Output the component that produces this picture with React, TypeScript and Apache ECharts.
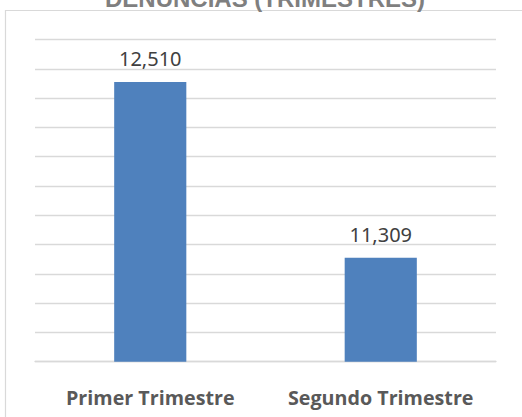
import React, { useEffect, useRef } from "react";
import * as echarts from "echarts";

const titleText = "DENUNCIAS (TRIMESTRES)";
const categories = ["Primer Trimestre", "Segundo Trimestre"];
const values = [12510, 11309];
const axisMin = 10600;
const axisMax = 12800;
const axisInterval = 200;

export default function App() {
  const ref = useRef<HTMLDivElement>(null);
  useEffect(() => {
    if (!ref.current) return;
    const chart = echarts.init(ref.current, undefined, { renderer: "svg" });
    chart.setOption({
      animation: false,
      backgroundColor: "#ffffff",
      graphic: [
        {
          type: "rect",
          shape: { x: 5.5, y: 10.5, width: 540, height: 430 },
          style: { fill: "none", stroke: "#d9d9d9", lineWidth: 1.2 },
          silent: true,
        },
        {
          type: "text",
          x: 265,
          y: 10,
          style: {
            text: titleText,
            font: "bold 24px 'Liberation Sans', Arial, sans-serif",
            fill: "#7f7f7f",
            textAlign: "center",
            textVerticalAlign: "bottom",
          },
        },
      ],
      grid: { left: 35, right: 26, top: 39.5, bottom: 55.3, containLabel: false },
      xAxis: {
        type: "category",
        data: categories,
        axisTick: { show: false },
        axisLine: { show: true, lineStyle: { color: "#d9d9d9", width: 1.3 } },
        axisLabel: {
          interval: 0,
          hideOverlap: false,
          margin: 26,
          color: "#595959",
          fontFamily: "'Open Sans', sans-serif",
          fontWeight: "bold",
          fontSize: 19.7,
        },
      },
      yAxis: {
        type: "value",
        min: axisMin,
        max: axisMax,
        interval: axisInterval,
        axisLabel: { show: false },
        axisTick: { show: false },
        axisLine: { show: false },
        splitLine: { show: true, lineStyle: { color: "#d9d9d9", width: 1.3 } },
      },
      series: [
        {
          type: "bar",
          data: values,
          barWidth: "31.3%",
          itemStyle: { color: "#4f81bd" },
          label: {
            show: true,
            position: "top",
            distance: 13,
            color: "#404040",
            fontFamily: "'Noto Sans', sans-serif",
            fontSize: 20,
            formatter: (p: any) => Number(p.value).toLocaleString("en-US"),
          },
        },
      ],
    });
    return () => chart.dispose();
  }, []);
  return (
    <div
      ref={ref}
      style={{ position: "fixed", left: 0, top: 0, width: 522, height: 417 }}
    />
  );
}
